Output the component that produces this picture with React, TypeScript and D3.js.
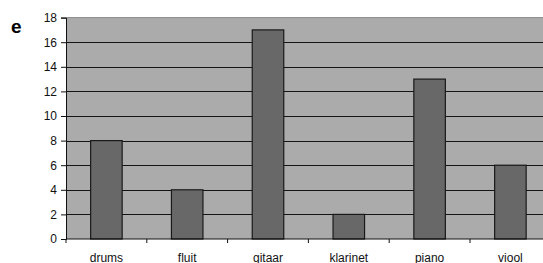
import React, { useEffect, useRef } from 'react';
import * as d3 from 'd3';

const instruments = ['drums', 'fluit', 'gitaar', 'klarinet', 'piano', 'viool'];
const counts = [8, 4, 17, 2, 13, 6];
const yTicks = [0, 2, 4, 6, 8, 10, 12, 14, 16, 18];

const App = () => {
  const ref = useRef<SVGSVGElement>(null);

  useEffect(() => {
    const svg = d3.select(ref.current);
    svg.selectAll('*').remove();

    const left = 66;
    const step = 80.8;
    const top = 17.6;
    const bottom = 239;

    const x = d3.scaleBand<string>()
      .domain(instruments)
      .range([left, left + step * instruments.length])
      .padding(0);

    const y = d3.scaleLinear().domain([0, 18]).range([bottom, top]);

    // plot background
    svg.append('rect')
      .attr('x', left)
      .attr('y', top)
      .attr('width', 543 - left)
      .attr('height', bottom - top)
      .attr('fill', '#ababab');

    // top border
    svg.append('line')
      .attr('x1', left).attr('x2', 543)
      .attr('y1', top).attr('y2', top)
      .attr('stroke', '#8a8a8a')
      .attr('stroke-width', 1);

    // gridlines
    svg.append('g')
      .selectAll('line')
      .data(yTicks.filter(t => t > 0 && t < 18))
      .join('line')
      .attr('x1', left).attr('x2', 543)
      .attr('y1', d => Math.round(y(d)) + 0.5)
      .attr('y2', d => Math.round(y(d)) + 0.5)
      .attr('stroke', '#141414')
      .attr('stroke-width', 1.2);

    // bars
    const barW = x.bandwidth() * 0.39;
    svg.append('g')
      .selectAll('rect')
      .data(instruments)
      .join('rect')
      .attr('x', d => (x(d) as number) + (x.bandwidth() - barW) / 2)
      .attr('y', (d, i) => y(counts[i]))
      .attr('width', barW)
      .attr('height', (d, i) => bottom - y(counts[i]))
      .attr('fill', '#686868')
      .attr('stroke', '#1a1a1a')
      .attr('stroke-width', 1.2);

    // y axis
    svg.append('g')
      .attr('transform', `translate(${left},0)`)
      .call(d3.axisLeft(y).tickValues(yTicks).tickSize(5).tickPadding(4))
      .call(g => g.select('.domain').attr('stroke', '#111'))
      .call(g => g.selectAll('line').attr('stroke', '#111'))
      .call(g => g.selectAll('text')
        .style('font-family', '"Liberation Sans", Arial, sans-serif')
        .style('font-size', '12px')
        .attr('fill', '#111'));

    // x axis
    const xAxis = svg.append('g').attr('transform', `translate(0,${bottom})`);
    xAxis.append('line')
      .attr('x1', left).attr('x2', 543)
      .attr('stroke', '#111');
    xAxis.selectAll('line.tick')
      .data(d3.range(instruments.length + 1))
      .join('line')
      .attr('class', 'tick')
      .attr('x1', i => left + i * step)
      .attr('x2', i => left + i * step)
      .attr('y1', 0).attr('y2', 4)
      .attr('stroke', '#111');
    xAxis.selectAll('text')
      .data(instruments)
      .join('text')
      .attr('x', d => (x(d) as number) + x.bandwidth() / 2)
      .attr('y', 22.5)
      .attr('text-anchor', 'middle')
      .style('font-family', '"Liberation Sans", Arial, sans-serif')
      .style('font-size', '12px')
      .attr('fill', '#111')
      .text(d => d);

    // panel letter
    svg.append('text')
      .attr('x', 11)
      .attr('y', 33)
      .style('font-family', '"Liberation Sans", Arial, sans-serif')
      .style('font-size', '19px')
      .style('font-weight', 'bold')
      .text('e');
  }, []);

  return (
    <svg
      ref={ref}
      width={543}
      height={263}
      style={{ position: 'absolute', left: 0, top: 0, background: '#fff' }}
    />
  );
};

export default App;
